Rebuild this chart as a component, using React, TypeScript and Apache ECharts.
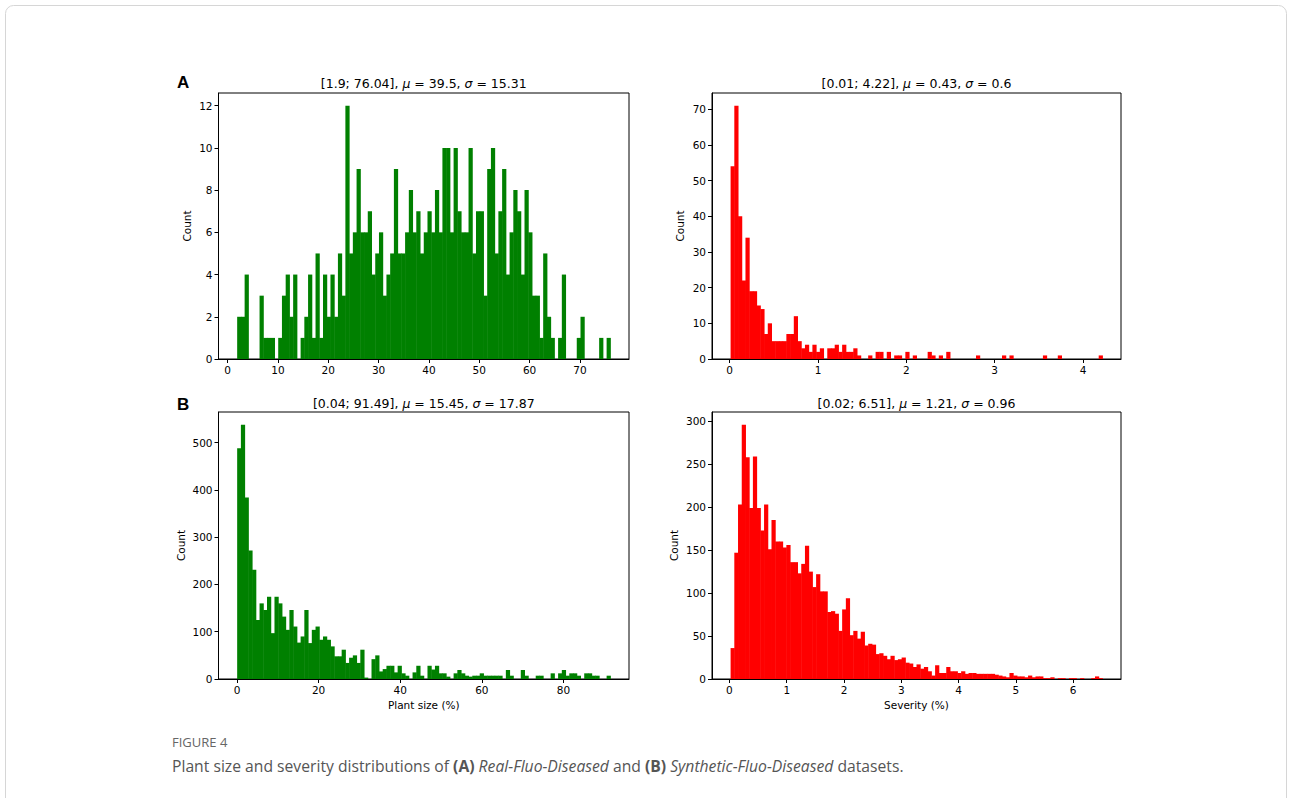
import React, { useEffect, useRef } from "react";
import * as echarts from "echarts";

// ---------- data ----------
// Real-Fluo-Diseased: plant size (%)
const plantRealRange = [1.9, 76.04];
const plantRealCounts = [
  2, 2, 4, 0, 0, 0, 3, 1, 1, 1,
  0, 1, 3, 4, 2, 4, 0, 1, 2, 4,
  1, 5, 1, 4, 2, 4, 2, 5, 3, 12,
  5, 6, 9, 6, 6, 7, 4, 5, 6, 3,
  4, 5, 9, 5, 5, 6, 8, 6, 7, 5,
  6, 7, 6, 8, 6, 10, 10, 6, 10, 7,
  6, 6, 10, 5, 7, 7, 3, 9, 10, 5,
  7, 9, 4, 6, 8, 7, 4, 8, 6, 3,
  3, 1, 5, 2, 1, 0, 1, 4, 0, 0,
  0, 1, 2, 0, 0, 0, 0, 1, 0, 1,
];
// Real-Fluo-Diseased: severity (%)
const sevRealRange = [0.01, 4.22];
const sevRealCounts = [
  54, 71, 40, 22, 34, 19, 19, 15, 14, 7,
  10, 5, 5, 5, 5, 7, 7, 12, 5, 3,
  4, 2, 4, 2, 3, 0, 3, 3, 4, 2,
  4, 2, 2, 3, 1, 0, 0, 1, 0, 2,
  2, 0, 2, 0, 1, 1, 0, 2, 0, 1,
  0, 0, 0, 2, 1, 0, 1, 0, 2, 0,
  0, 0, 0, 0, 0, 0, 1, 0, 0, 0,
  0, 0, 0, 1, 0, 1, 0, 0, 0, 0,
  0, 0, 0, 0, 1, 0, 0, 0, 1, 0,
  0, 0, 0, 0, 0, 0, 0, 0, 0, 1,
];
// Synthetic-Fluo-Diseased: plant size (%)
const plantSynRange = [0.04, 91.49];
const plantSynCounts = [
  488, 538, 384, 272, 231, 125, 160, 146, 174, 97,
  174, 160, 132, 104, 146, 111, 77, 90, 146, 76,
  104, 111, 83, 90, 83, 69, 48, 48, 62, 34,
  45, 50, 34, 62, 3, 0, 42, 50, 16, 21,
  28, 28, 14, 28, 12, 7, 0, 14, 28, 7,
  0, 28, 20, 28, 12, 12, 5, 0, 12, 19,
  12, 7, 5, 7, 7, 12, 7, 7, 7, 7,
  7, 0, 19, 7, 0, 0, 19, 7, 0, 0,
  7, 7, 0, 0, 12, 0, 12, 19, 7, 12,
  12, 7, 0, 12, 12, 7, 7, 0, 0, 7,
];
// Synthetic-Fluo-Diseased: severity (%)
const sevSynRange = [0.02, 6.51];
const sevSynCounts = [
  36, 147, 203, 296, 258, 199, 259, 199, 173, 203,
  151, 185, 160, 160, 153, 156, 136, 136, 123, 134,
  155, 125, 107, 122, 102, 102, 78, 79, 76, 56,
  81, 94, 51, 56, 47, 55, 39, 41, 40, 29,
  30, 27, 23, 27, 22, 23, 25, 19, 18, 14,
  17, 12, 14, 9, 4, 16, 7, 7, 14, 9,
  9, 7, 9, 6, 7, 7, 6, 6, 6, 6,
  6, 5, 4, 3, 2, 7, 4, 3, 3, 2,
  4, 2, 3, 3, 1, 1, 2, 0, 1, 1,
  0, 1, 1, 0, 1, 0, 0, 1, 3, 1,
];

const panelTitles = [
  { range: "[1.9; 76.04]", mu: "39.5", sigma: "15.31" },
  { range: "[0.01; 4.22]", mu: "0.43", sigma: "0.6" },
  { range: "[0.04; 91.49]", mu: "15.45", sigma: "17.87" },
  { range: "[0.02; 6.51]", mu: "1.21", sigma: "0.96" },
];

const xTicksPlantReal = [0, 10, 20, 30, 40, 50, 60, 70];
const xTicksSevReal = [0, 1, 2, 3, 4];
const xTicksPlantSyn = [0, 20, 40, 60, 80];
const xTicksSevSyn = [0, 1, 2, 3, 4, 5, 6];
const yTicksPlantReal = [0, 2, 4, 6, 8, 10, 12];
const yTicksSevReal = [0, 10, 20, 30, 40, 50, 60, 70];
const yTicksPlantSyn = [0, 100, 200, 300, 400, 500];
const yTicksSevSyn = [0, 50, 100, 150, 200, 250, 300];

const xNames = ["", "", "Plant size (%)", "Severity (%)"];
const rowLabels = ["A", "B"];
const figureLabel = "FIGURE 4";

const GREEN = "#008000";
const RED = "#ff0000";
const PLOT_FONT = "DejaVu Sans";

function histData(range: number[], counts: number[]) {
  const w = (range[1] - range[0]) / counts.length;
  return counts.map((c, i) => [range[0] + i * w, range[0] + (i + 1) * w, c]);
}

export default function App() {
  const ref = useRef<HTMLDivElement>(null);

  useEffect(() => {
    if (!ref.current) return;
    const chart = echarts.init(ref.current, undefined, { renderer: "svg" });

    const panels = [
      { range: plantRealRange, counts: plantRealCounts, color: GREEN, xt: xTicksPlantReal, yt: yTicksPlantReal, grid: { left: 218.5, top: 93, width: 410.5, height: 266 }, yGap: 26 },
      { range: sevRealRange, counts: sevRealCounts, color: RED, xt: xTicksSevReal, yt: yTicksSevReal, grid: { left: 712, top: 93, width: 409, height: 266 }, yGap: 27 },
      { range: plantSynRange, counts: plantSynCounts, color: GREEN, xt: xTicksPlantSyn, yt: yTicksPlantSyn, grid: { left: 218.5, top: 412, width: 410.5, height: 267 }, yGap: 32 },
      { range: sevSynRange, counts: sevSynCounts, color: RED, xt: xTicksSevSyn, yt: yTicksSevSyn, grid: { left: 712, top: 412, width: 409, height: 267 }, yGap: 33 },
    ];

    const tickLabel = { color: "#000", fontSize: 10.5, fontFamily: PLOT_FONT };

    const grids = panels.map((p) => ({
      ...p.grid,
      show: true,
      borderColor: "#000",
      borderWidth: 1,
      backgroundColor: "transparent",
    }));

    const xAxes = panels.map((p, i) => {
      const span = p.range[1] - p.range[0];
      return {
        gridIndex: i,
        type: "value",
        min: p.range[0] - span * 0.05,
        max: p.range[1] + span * 0.05,
        axisLine: { show: true, onZero: false, lineStyle: { color: "#000", width: 1 } },
        axisTick: { show: true, length: 4, lineStyle: { color: "#000" }, customValues: p.xt },
        axisLabel: { ...tickLabel, margin: 5, customValues: p.xt, formatter: (v: number) => String(v) },
        splitLine: { show: false },
        name: xNames[i],
        nameLocation: "middle",
        nameGap: 20,
        nameTextStyle: { color: "#000", fontSize: 10.5, fontFamily: PLOT_FONT },
      };
    });

    const yAxes = panels.map((p, i) => {
      const maxC = Math.max(...p.counts);
      return {
        gridIndex: i,
        type: "value",
        min: 0,
        max: maxC * 1.05,
        axisLine: { show: true, onZero: false, lineStyle: { color: "#000", width: 1 } },
        axisTick: { show: true, length: 4, lineStyle: { color: "#000" }, customValues: p.yt },
        axisLabel: { ...tickLabel, margin: 6, customValues: p.yt, formatter: (v: number) => String(v) },
        splitLine: { show: false },
        name: "Count",
        nameLocation: "middle",
        nameGap: p.yGap,
        nameTextStyle: { color: "#000", fontSize: 10.5, fontFamily: PLOT_FONT },
      };
    });

    const series = panels.map((p, i) => ({
      type: "custom",
      xAxisIndex: i,
      yAxisIndex: i,
      data: histData(p.range, p.counts),
      encode: { x: [0, 1], y: 2 },
      clip: true,
      renderItem: (params: any, api: any) => {
        const c = api.value(2);
        if (!c) return null;
        const p0 = api.coord([api.value(0), c]);
        const p1 = api.coord([api.value(1), 0]);
        return {
          type: "rect",
          shape: { x: p0[0], y: p0[1], width: p1[0] - p0[0] + 0.5, height: p1[1] - p0[1] },
          style: { fill: p.color },
        };
      },
    }));

    const titleGraphics = panels.map((p, i) => ({
      type: "text",
      x: p.grid.left + p.grid.width / 2,
      y: i < 2 ? 83 : 403,
      style: {
        text: `${panelTitles[i].range}, {g|μ} = ${panelTitles[i].mu}, {g|σ} = ${panelTitles[i].sigma}`,
        font: `12.5px "${PLOT_FONT}"`,
        fill: "#000",
        align: "center",
        verticalAlign: "middle",
        rich: {
          g: { fontStyle: "italic", fontSize: 12.5, fontFamily: PLOT_FONT, fill: "#000" },
        },
      },
    }));

    const option = {
      animation: false,
      backgroundColor: "#fff",
      grid: grids,
      xAxis: xAxes,
      yAxis: yAxes,
      series,
      graphic: [
        {
          type: "rect",
          shape: { x: 5.5, y: 5.5, width: 1281, height: 820, r: 8 },
          style: { fill: "none", stroke: "#d6d6d6", lineWidth: 1 },
          silent: true,
        },
        ...titleGraphics,
        {
          type: "text",
          x: 177,
          y: 82,
          style: { text: rowLabels[0], font: 'bold 17px "Liberation Sans"', fill: "#000", verticalAlign: "middle" },
        },
        {
          type: "text",
          x: 177,
          y: 404,
          style: { text: rowLabels[1], font: 'bold 17px "Liberation Sans"', fill: "#000", verticalAlign: "middle" },
        },
        {
          type: "text",
          x: 172,
          y: 742,
          style: { text: figureLabel, font: '13px "Open Sans"', fill: "#666", verticalAlign: "middle" },
        },
        {
          type: "text",
          x: 172,
          y: 766,
          style: {
            text:
              "{n|Plant size and severity distributions of }{b|(A)}{n| }{i|Real-Fluo-Diseased}{n| and }{b|(B)}{n| }{i|Synthetic-Fluo-Diseased}{n| datasets.}",
            verticalAlign: "middle",
            rich: {
              n: { fontSize: 15.7, fontFamily: "Open Sans", fill: "#555" },
              b: { fontSize: 15.7, fontFamily: "Open Sans", fontWeight: "bold", fill: "#555" },
              i: { fontSize: 15.7, fontFamily: "Open Sans", fontStyle: "italic", fill: "#555" },
            },
          },
        },
      ],
    };

    chart.setOption(option as any);
    return () => chart.dispose();
  }, []);

  return (
    <div
      ref={ref}
      style={{ position: "fixed", left: 0, top: 0, width: 1292, height: 798, background: "#fff" }}
    />
  );
}
